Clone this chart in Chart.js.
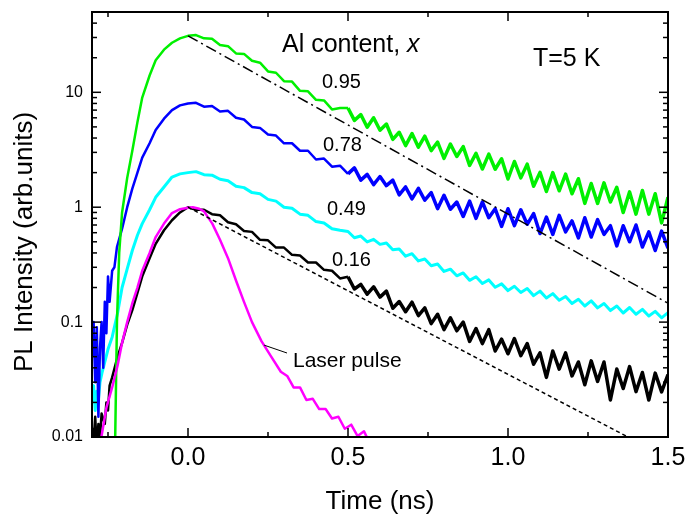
<!DOCTYPE html>
<html><head><meta charset="utf-8">
<script src="https://cdn.jsdelivr.net/npm/chart.js@4.4.1/dist/chart.umd.min.js"></script>
<style>html,body{margin:0;padding:0;background:#fff;}</style>
</head><body>
<canvas id="c" width="691" height="522"></canvas>
<script>
// ---- tick definitions ----
const xMajorTicks = [0, 0.5, 1.0, 1.5];
const xMinorTicks = [-0.25, 0.25, 0.75, 1.25];
const yMajorTicks = [0.01, 0.1, 1, 10];
const yMinorTicks = [0.02,0.03,0.04,0.05,0.06,0.07,0.08,0.09,0.2,0.3,0.4,0.5,0.6,0.7,0.8,0.9,2,3,4,5,6,7,8,9,20,30,40];

// ---- shared time grids for the decays (ns) ----
const headT = [0,0.025,0.05,0.075,0.1,0.125,0.15,0.175,0.2,0.225,0.25,0.275,0.3,0.325,0.35,0.375,0.4,0.425,0.45,0.475];
const tailT = [0.5,0.52,0.54,0.56,0.58,0.6,0.62,0.64,0.66,0.68,0.7,0.72,0.74,0.76,0.78,0.8,0.82,0.84,0.86,0.88,0.9,0.92,0.94,0.96,0.98,1.0,1.02,1.04,1.06,1.08,1.1,1.12,1.14,1.16,1.18,1.2,1.22,1.24,1.26,1.28,1.3,1.32,1.34,1.36,1.38,1.4,1.42,1.44,1.46,1.48,1.5];

// ---- x = 0.95 (green) ----
const greenRiseT = [-0.228,-0.222,-0.215,-0.206,-0.19,-0.174,-0.158,-0.143,-0.12,-0.101,-0.075,-0.05,-0.025];
const greenRiseV = [0.008,0.1,0.4,0.9,1.8,3.1,5.5,9,14,19,23.5,27,29.5];
const greenHeadV = [31,31.5,29.5,29.2,25.8,25.2,21.8,21.6,18.8,18.1,15.2,14.8,12.5,12.4,10.3,10.2,8.6,8.5,7.1,7.3];
const greenTailV = [7.3,5.7,6.4,4.96,6.0,4.68,5.30,3.89,4.49,3.44,4.37,3.33,4.15,3.11,3.69,2.66,3.55,2.76,3.37,2.31,2.94,2.15,2.90,2.14,2.64,1.76,2.50,1.80,2.37,1.52,2.01,1.37,2.00,1.39,1.94,1.31,1.77,1.08,1.61,1.08,1.63,1.11,1.49,0.90,1.36,0.87,1.40,0.87,1.31,0.73,1.22];

// ---- x = 0.78 (blue) ----
const blueRiseT = [-0.3,-0.295,-0.29,-0.285,-0.28,-0.275,-0.27,-0.265,-0.26,-0.255,-0.25,-0.245,-0.237,-0.23,-0.222,-0.206,-0.19,-0.174,-0.158,-0.143,-0.12,-0.101,-0.075,-0.05,-0.025];
const blueRiseV = [0.05,0.1,0.03,0.09,0.015,0.06,0.1,0.04,0.15,0.08,0.25,0.15,0.28,0.3,0.45,0.65,1.0,1.45,2.0,2.7,3.6,4.7,5.9,7.0,7.7];
const blueHeadV = [8.0,8.1,7.5,7.6,6.8,6.9,6.0,5.8,5.0,4.9,4.3,4.2,3.6,3.6,3.1,3.1,2.6,2.65,2.25,2.3];
const blueTailV = [1.95,2.20,1.72,1.93,1.57,1.85,1.54,1.72,1.28,1.50,1.18,1.46,1.15,1.34,0.97,1.27,0.96,1.11,0.83,1.13,0.80,1.11,0.81,0.97,0.68,0.97,0.69,0.95,0.71,0.88,0.59,0.82,0.58,0.85,0.61,0.76,0.54,0.81,0.55,0.78,0.58,0.69,0.46,0.69,0.50,0.70,0.45,0.61,0.42,0.62,0.44];

// ---- x = 0.49 (cyan) ----
const cyanRiseT = [-0.3,-0.295,-0.29,-0.285,-0.28,-0.275,-0.269,-0.26,-0.25,-0.237,-0.22,-0.206,-0.19,-0.174,-0.158,-0.143,-0.12,-0.101,-0.075,-0.05,-0.025];
const cyanRiseV = [0.02,0.028,0.017,0.025,0.021,0.03,0.036,0.045,0.058,0.074,0.12,0.2,0.29,0.42,0.57,0.72,0.95,1.22,1.5,1.83,1.95];
const cyanHeadV = [2.0,2.04,1.92,1.9,1.75,1.7,1.52,1.48,1.34,1.31,1.17,1.13,1.0,0.98,0.87,0.85,0.75,0.73,0.65,0.63];
const cyanTailV = [0.614,0.542,0.561,0.499,0.525,0.475,0.488,0.427,0.433,0.375,0.394,0.341,0.354,0.309,0.320,0.276,0.289,0.253,0.268,0.231,0.248,0.217,0.233,0.201,0.215,0.188,0.205,0.181,0.196,0.170,0.186,0.162,0.177,0.155,0.167,0.145,0.158,0.138,0.153,0.133,0.145,0.126,0.138,0.120,0.134,0.117,0.129,0.113,0.124,0.109,0.121];

// ---- x = 0.16 (black) ----
const blackRiseT = [-0.3,-0.295,-0.29,-0.285,-0.28,-0.275,-0.27,-0.26,-0.255,-0.25,-0.245,-0.237,-0.22,-0.206,-0.19,-0.174,-0.158,-0.143,-0.12,-0.101,-0.075,-0.05,-0.025];
const blackRiseV = [0.012,0.009,0.015,0.008,0.013,0.01,0.016,0.013,0.02,0.017,0.028,0.033,0.05,0.066,0.095,0.127,0.18,0.25,0.36,0.48,0.63,0.77,0.9];
const blackHeadV = [1.0,0.95,0.95,0.87,0.85,0.74,0.71,0.62,0.61,0.52,0.515,0.445,0.445,0.385,0.38,0.33,0.33,0.285,0.28,0.24];
const blackTailV = [0.248,0.194,0.213,0.175,0.203,0.165,0.186,0.132,0.151,0.123,0.149,0.114,0.133,0.097,0.117,0.086,0.109,0.084,0.100,0.068,0.088,0.065,0.086,0.056,0.071,0.053,0.072,0.051,0.065,0.043,0.054,0.033,0.056,0.039,0.054,0.034,0.045,0.0285,0.046,0.0305,0.045,0.021,0.039,0.0264,0.041,0.0248,0.0364,0.021,0.036,0.0247,0.035];

// ---- laser pulse (magenta) ----
const laserT = [-0.272,-0.255,-0.237,-0.22,-0.206,-0.19,-0.174,-0.158,-0.143,-0.12,-0.101,-0.075,-0.05,-0.025,0,0.015,0.035,0.05,0.076,0.1,0.125,0.15,0.175,0.2,0.23,0.26,0.29,0.31,0.33,0.35,0.37,0.39,0.41,0.43,0.45,0.47,0.49,0.51,0.53,0.55,0.565];
const laserV = [0.0095,0.018,0.027,0.042,0.066,0.1,0.146,0.2,0.28,0.4,0.55,0.72,0.89,0.96,0.99,1.0,0.97,0.92,0.72,0.52,0.36,0.23,0.15,0.10,0.068,0.05,0.037,0.034,0.027,0.027,0.021,0.0215,0.0175,0.0175,0.0145,0.015,0.0118,0.0128,0.0102,0.0112,0.0092];

// ---- exponential guide lines ----
const dashT = [0, 1.375];
const dashV = [1, 0.01];
const dashDotT = [0, 1.5];
const dashDotV = [31, 0.146];

// ---- labels ----
const curveLabels = ['0.95', '0.78', '0.49', '0.16'];

function pts(t, v) { return t.map((x, i) => ({ x: x, y: v[i] })); }
function series(riseT, riseV, headV, tailV) {
  return pts(riseT.concat(headT, tailT), riseV.concat(headV, tailV));
}

const FONT = '"Liberation Sans", Arial, Helvetica, sans-serif';

const decor = {
  id: 'decor',
  afterDraw(chart) {
    const { ctx, chartArea: a, scales: { x, y } } = chart;
    ctx.save();
    ctx.strokeStyle = '#000';
    ctx.lineWidth = 1.5;
    function seg(x1, y1, x2, y2) { ctx.beginPath(); ctx.moveTo(x1, y1); ctx.lineTo(x2, y2); ctx.stroke(); }
    xMajorTicks.forEach(v => { const p = x.getPixelForValue(v); seg(p, a.bottom, p, a.bottom - 9); seg(p, a.top, p, a.top + 9); });
    xMinorTicks.forEach(v => { const p = x.getPixelForValue(v); seg(p, a.bottom, p, a.bottom - 5); seg(p, a.top, p, a.top + 5); });
    yMajorTicks.forEach(v => { const p = y.getPixelForValue(v); seg(a.left, p, a.left + 9, p); seg(a.right, p, a.right - 9, p); });
    yMinorTicks.forEach(v => { const p = y.getPixelForValue(v); seg(a.left, p, a.left + 5, p); seg(a.right, p, a.right - 5, p); });
    ctx.lineWidth = 2;
    ctx.strokeRect(a.left, a.top, a.right - a.left, a.bottom - a.top);

    ctx.fillStyle = '#000';
    ctx.textBaseline = 'alphabetic';
    ctx.textAlign = 'left';
    ctx.font = '25px ' + FONT;
    ctx.fillText('Al content, ', 282, 52);
    const w = ctx.measureText('Al content, ').width;
    ctx.font = 'italic 25px ' + FONT;
    ctx.fillText('x', 282 + w, 52);
    ctx.font = '25px ' + FONT;
    ctx.fillText('T=5 K', 533, 66);

    ctx.font = '20px ' + FONT;
    ctx.fillText(curveLabels[0], 322, 88);
    ctx.fillText(curveLabels[1], 323, 151);
    ctx.fillText(curveLabels[2], 327, 215);
    ctx.fillText(curveLabels[3], 332, 266);

    ctx.font = '21px ' + FONT;
    ctx.fillText('Laser pulse', 293, 367);
    ctx.lineWidth = 1;
    seg(x.getPixelForValue(0.238), y.getPixelForValue(0.063), 287, 353);

    ctx.font = '26px ' + FONT;
    ctx.translate(25, 242);
    ctx.rotate(-Math.PI / 2);
    ctx.textAlign = 'center';
    ctx.textBaseline = 'middle';
    ctx.fillText('PL Intensity (arb.units)', 0, 0);
    ctx.restore();
  }
};

const lineBase = { showLine: true, pointRadius: 0, fill: false, tension: 0, borderJoinStyle: 'round' };
const noisyWidth = { borderWidth: c => (c.p0.parsed.x >= 0.5 ? 3.5 : 2.5) };

new Chart(document.getElementById('c'), {
  type: 'scatter',
  data: {
    datasets: [
      Object.assign({}, lineBase, { label: 'fit dash-dot', data: pts(dashDotT, dashDotV), borderColor: '#000', borderWidth: 1.5, borderDash: [11, 4, 2, 4] }),
      Object.assign({}, lineBase, { label: 'fit dashed', data: pts(dashT, dashV), borderColor: '#000', borderWidth: 1.5, borderDash: [4, 3] }),
      Object.assign({}, lineBase, { label: 'Laser pulse', data: pts(laserT, laserV), borderColor: '#ff00ff', borderWidth: 2.5 }),
      Object.assign({}, lineBase, { label: '0.95', data: series(greenRiseT, greenRiseV, greenHeadV, greenTailV), borderColor: '#00f000', borderWidth: 2.5, segment: noisyWidth }),
      Object.assign({}, lineBase, { label: '0.78', data: series(blueRiseT, blueRiseV, blueHeadV, blueTailV), borderColor: '#0000ff', borderWidth: 2.5, segment: noisyWidth }),
      Object.assign({}, lineBase, { label: '0.49', data: series(cyanRiseT, cyanRiseV, cyanHeadV, cyanTailV), borderColor: '#00ffff', borderWidth: 3 }),
      Object.assign({}, lineBase, { label: '0.16', data: series(blackRiseT, blackRiseV, blackHeadV, blackTailV), borderColor: '#000000', borderWidth: 2.5, segment: noisyWidth })
    ]
  },
  options: {
    responsive: false,
    animation: false,
    devicePixelRatio: 1,
    layout: { padding: { left: 0, right: 23, top: 12, bottom: 0 } },
    plugins: { legend: { display: false }, tooltip: { enabled: false } },
    scales: {
      x: {
        type: 'linear', min: -0.3, max: 1.5,
        afterBuildTicks: s => { s.ticks = xMajorTicks.map(v => ({ value: v })); },
        afterFit: s => { s.height = 85; s.paddingLeft = 0; s.paddingRight = 0; },
        grid: { display: false, drawTicks: false },
        border: { display: false },
        ticks: { color: '#000', font: { family: FONT, size: 25 }, padding: 6, maxRotation: 0, callback: v => Number(v).toFixed(1) },
        title: { display: true, text: 'Time (ns)', color: '#000', font: { family: FONT, size: 26 }, padding: { top: 0, bottom: 5 } }
      },
      y: {
        type: 'logarithmic', min: 0.01, max: 50,
        afterBuildTicks: s => { s.ticks = yMajorTicks.map(v => ({ value: v })); },
        afterFit: s => { s.width = 92; s.paddingTop = 0; s.paddingBottom = 0; },
        grid: { display: false, drawTicks: false },
        border: { display: false },
        ticks: { color: '#000', font: { family: FONT, size: 16 }, padding: 9, callback: v => String(v) }
      }
    }
  },
  plugins: [decor]
});
</script>
</body></html>
